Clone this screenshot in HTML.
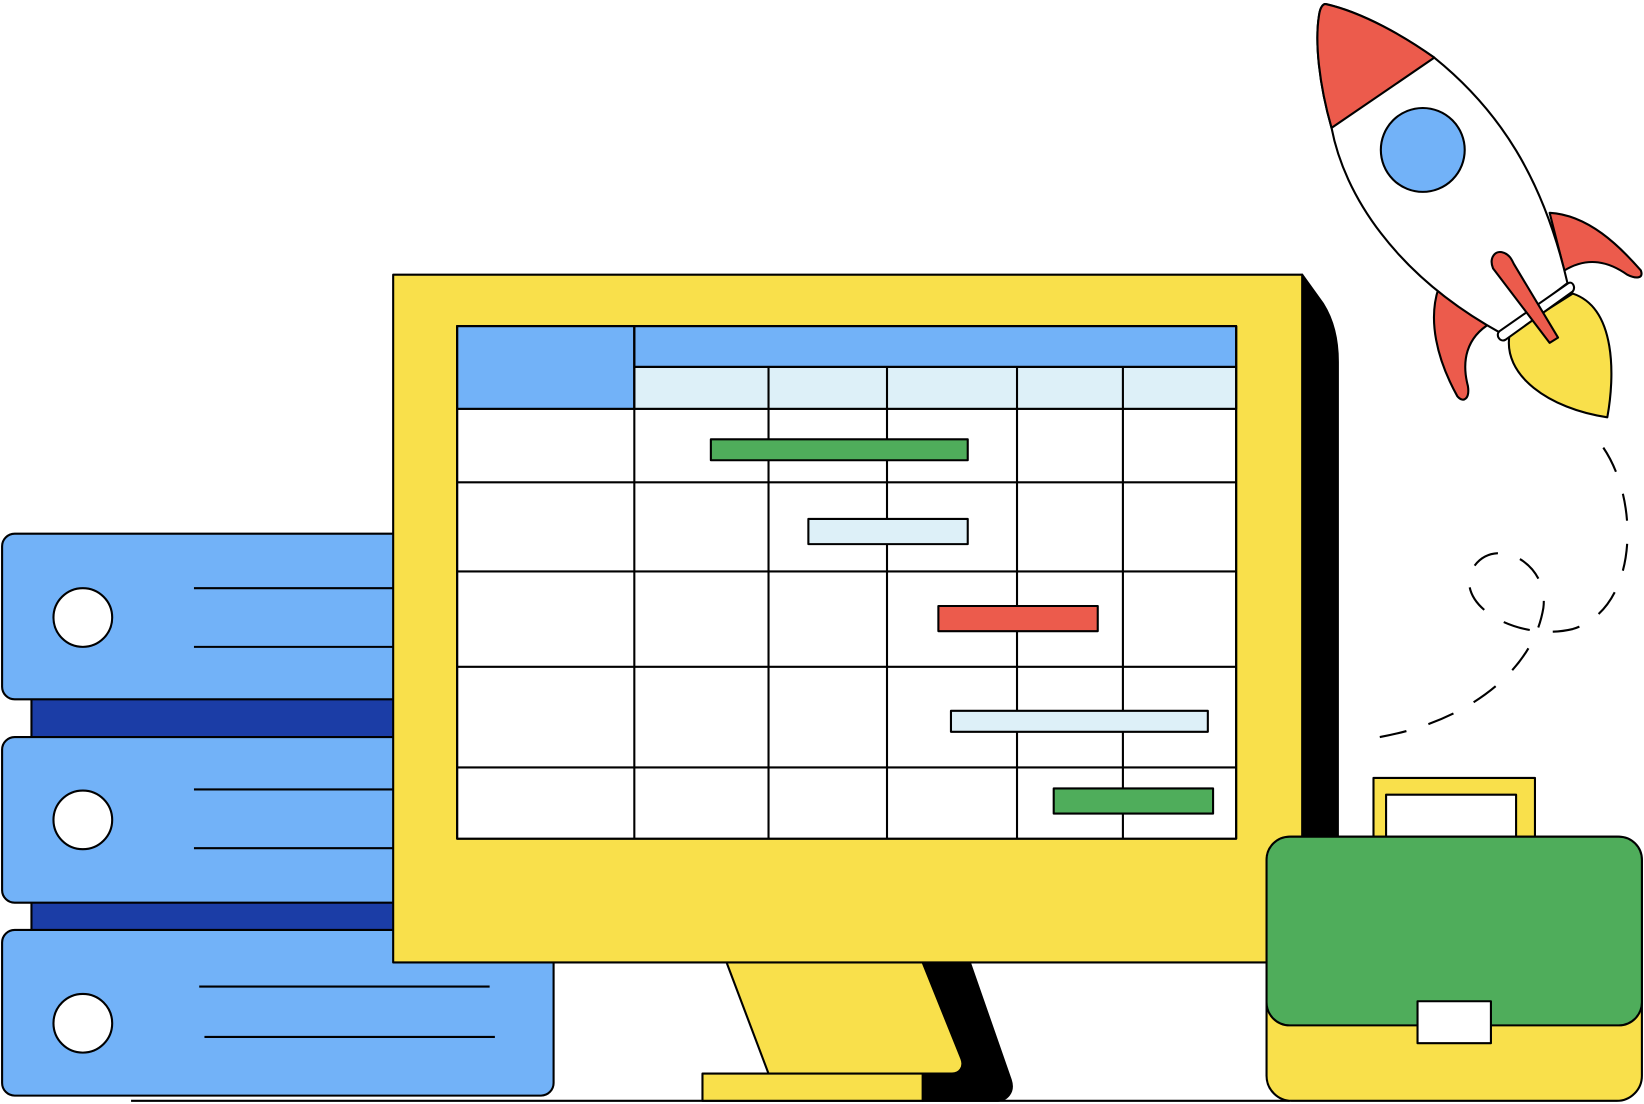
<!DOCTYPE html>
<html><head><meta charset="utf-8"><style>html,body{margin:0;padding:0;background:#fff;}svg{display:block}</style></head>
<body>
<svg width="1644" height="1104" viewBox="0 0 1568 1053" preserveAspectRatio="none" xmlns="http://www.w3.org/2000/svg">
<g stroke="#000" stroke-width="2" stroke-linejoin="round">
<line x1="125" y1="1050" x2="1230" y2="1050"/>
<!-- binders -->
<rect x="30" y="660" width="360" height="46" fill="#1B3DA6"/>
<rect x="30" y="855" width="360" height="36" fill="#1B3DA6"/>
<rect x="2" y="509" width="400" height="158" rx="12" fill="#72B2F8"/>
<rect x="2" y="703" width="400" height="158" rx="12" fill="#72B2F8"/>
<rect x="2" y="887" width="526" height="158" rx="12" fill="#72B2F8"/>
<circle cx="79" cy="589" r="28" fill="#fff"/>
<circle cx="79" cy="782" r="28" fill="#fff"/>
<circle cx="79" cy="976" r="28" fill="#fff"/>
<line x1="185" y1="561" x2="380" y2="561"/><line x1="185" y1="617" x2="380" y2="617"/>
<line x1="185" y1="753" x2="380" y2="753"/><line x1="185" y1="809" x2="380" y2="809"/>
<line x1="190" y1="941" x2="467" y2="941"/><line x1="195" y1="989" x2="472" y2="989"/>
<!-- stand -->
<path d="M880,918 L925,918 L964,1030 C968,1042 960,1050 950,1050 L880,1050 Z" fill="#000"/>
<path d="M693,918 L880,918 L917,1010 C920,1018 915,1024 908,1024 L733,1024 Z" fill="#F9E04B"/>
<rect x="670" y="1024" width="210" height="26" fill="#F9E04B"/>
<!-- monitor -->
<path d="M1242,262 L1262,290 C1272,306 1276,325 1276,345 L1276,918 L1242,918 Z" fill="#000"/>
<rect x="375" y="262" width="867" height="656" fill="#F9E04B"/>
<rect x="436" y="311" width="743" height="489" fill="#fff"/>
<rect x="436" y="311" width="169" height="79" fill="#72B2F8"/>
<rect x="605" y="311" width="574" height="39" fill="#72B2F8"/>
<rect x="605" y="350" width="574" height="40" fill="#DDF0F8"/>
<g fill="none">
<line x1="605" y1="311" x2="605" y2="800"/>
<line x1="733" y1="350" x2="733" y2="800"/>
<line x1="846" y1="350" x2="846" y2="800"/>
<line x1="970" y1="350" x2="970" y2="800"/>
<line x1="1071" y1="350" x2="1071" y2="800"/>
<line x1="436" y1="390" x2="1179" y2="390"/>
<line x1="436" y1="460" x2="1179" y2="460"/>
<line x1="436" y1="545" x2="1179" y2="545"/>
<line x1="436" y1="636" x2="1179" y2="636"/>
<line x1="436" y1="732" x2="1179" y2="732"/>
<rect x="436" y="311" width="743" height="489"/>
</g>
<rect x="678" y="419" width="245" height="20" fill="#4FAD5B"/>
<rect x="771" y="495" width="152" height="24" fill="#DDF0F8"/>
<rect x="895" y="578" width="152" height="24" fill="#EC5B4C"/>
<rect x="907" y="678" width="245" height="20" fill="#DDF0F8"/>
<rect x="1005" y="752" width="152" height="24" fill="#4FAD5B"/>
<!-- briefcase -->
<rect x="1310" y="742" width="154" height="70" fill="#F9E04B"/>
<rect x="1322" y="758" width="124" height="50" fill="#fff"/>
<rect x="1208" y="798" width="358" height="252" rx="24" fill="#F9E04B"/>
<rect x="1208" y="798" width="358" height="180" rx="22" fill="#4FAD5B"/>
<rect x="1352" y="955" width="70" height="40" fill="#fff"/>
<!-- dashed trail -->
<path d="M1316,703 C1400,688 1462,640 1472,580 C1478,535 1422,508 1403,545 C1390,580 1450,612 1500,600 C1565,580 1565,470 1524,420" fill="none" stroke-dasharray="26,22"/>
<!-- rocket -->
<path d="M1372,275 C1362,305 1370,342 1390,378 C1396,385 1402,380 1400,368 C1394,345 1398,322 1422,308 Z" fill="#EC5B4C"/>
<path d="M1478,203 C1515,205 1545,235 1565,258 C1568,266 1560,266 1552,262 C1535,250 1515,244 1492,258 Z" fill="#EC5B4C"/>
<path d="M1440,318 C1432,358 1478,390 1533,398 C1540,360 1542,294 1500,280 Z" fill="#F9E04B"/>
<path d="M1265,4 C1300,12 1340,35 1368,55 C1430,105 1472,170 1495,270 L1432,318 C1330,262 1282,185 1270,122 C1258,80 1254,40 1258,15 C1259,7 1262,3 1265,4 Z" fill="#fff"/>
<path d="M1265,4 C1300,12 1340,35 1368,55 L1270,122 C1258,80 1254,40 1258,15 C1259,7 1262,3 1265,4 Z" fill="#EC5B4C"/>
<circle cx="1357" cy="143" r="40" fill="#72B2F8"/>
<path d="M1430,316 L1496,270 C1500,268 1503,274 1500,278 L1436,324 C1431,327 1426,320 1430,316 Z" fill="#fff"/>
<path d="M1424,256 C1420,246 1426,238 1434,241 C1440,243 1442,248 1444,252 L1486,322 L1478,327 Z" fill="#EC5B4C"/>
</g>
</svg>
</body></html>
